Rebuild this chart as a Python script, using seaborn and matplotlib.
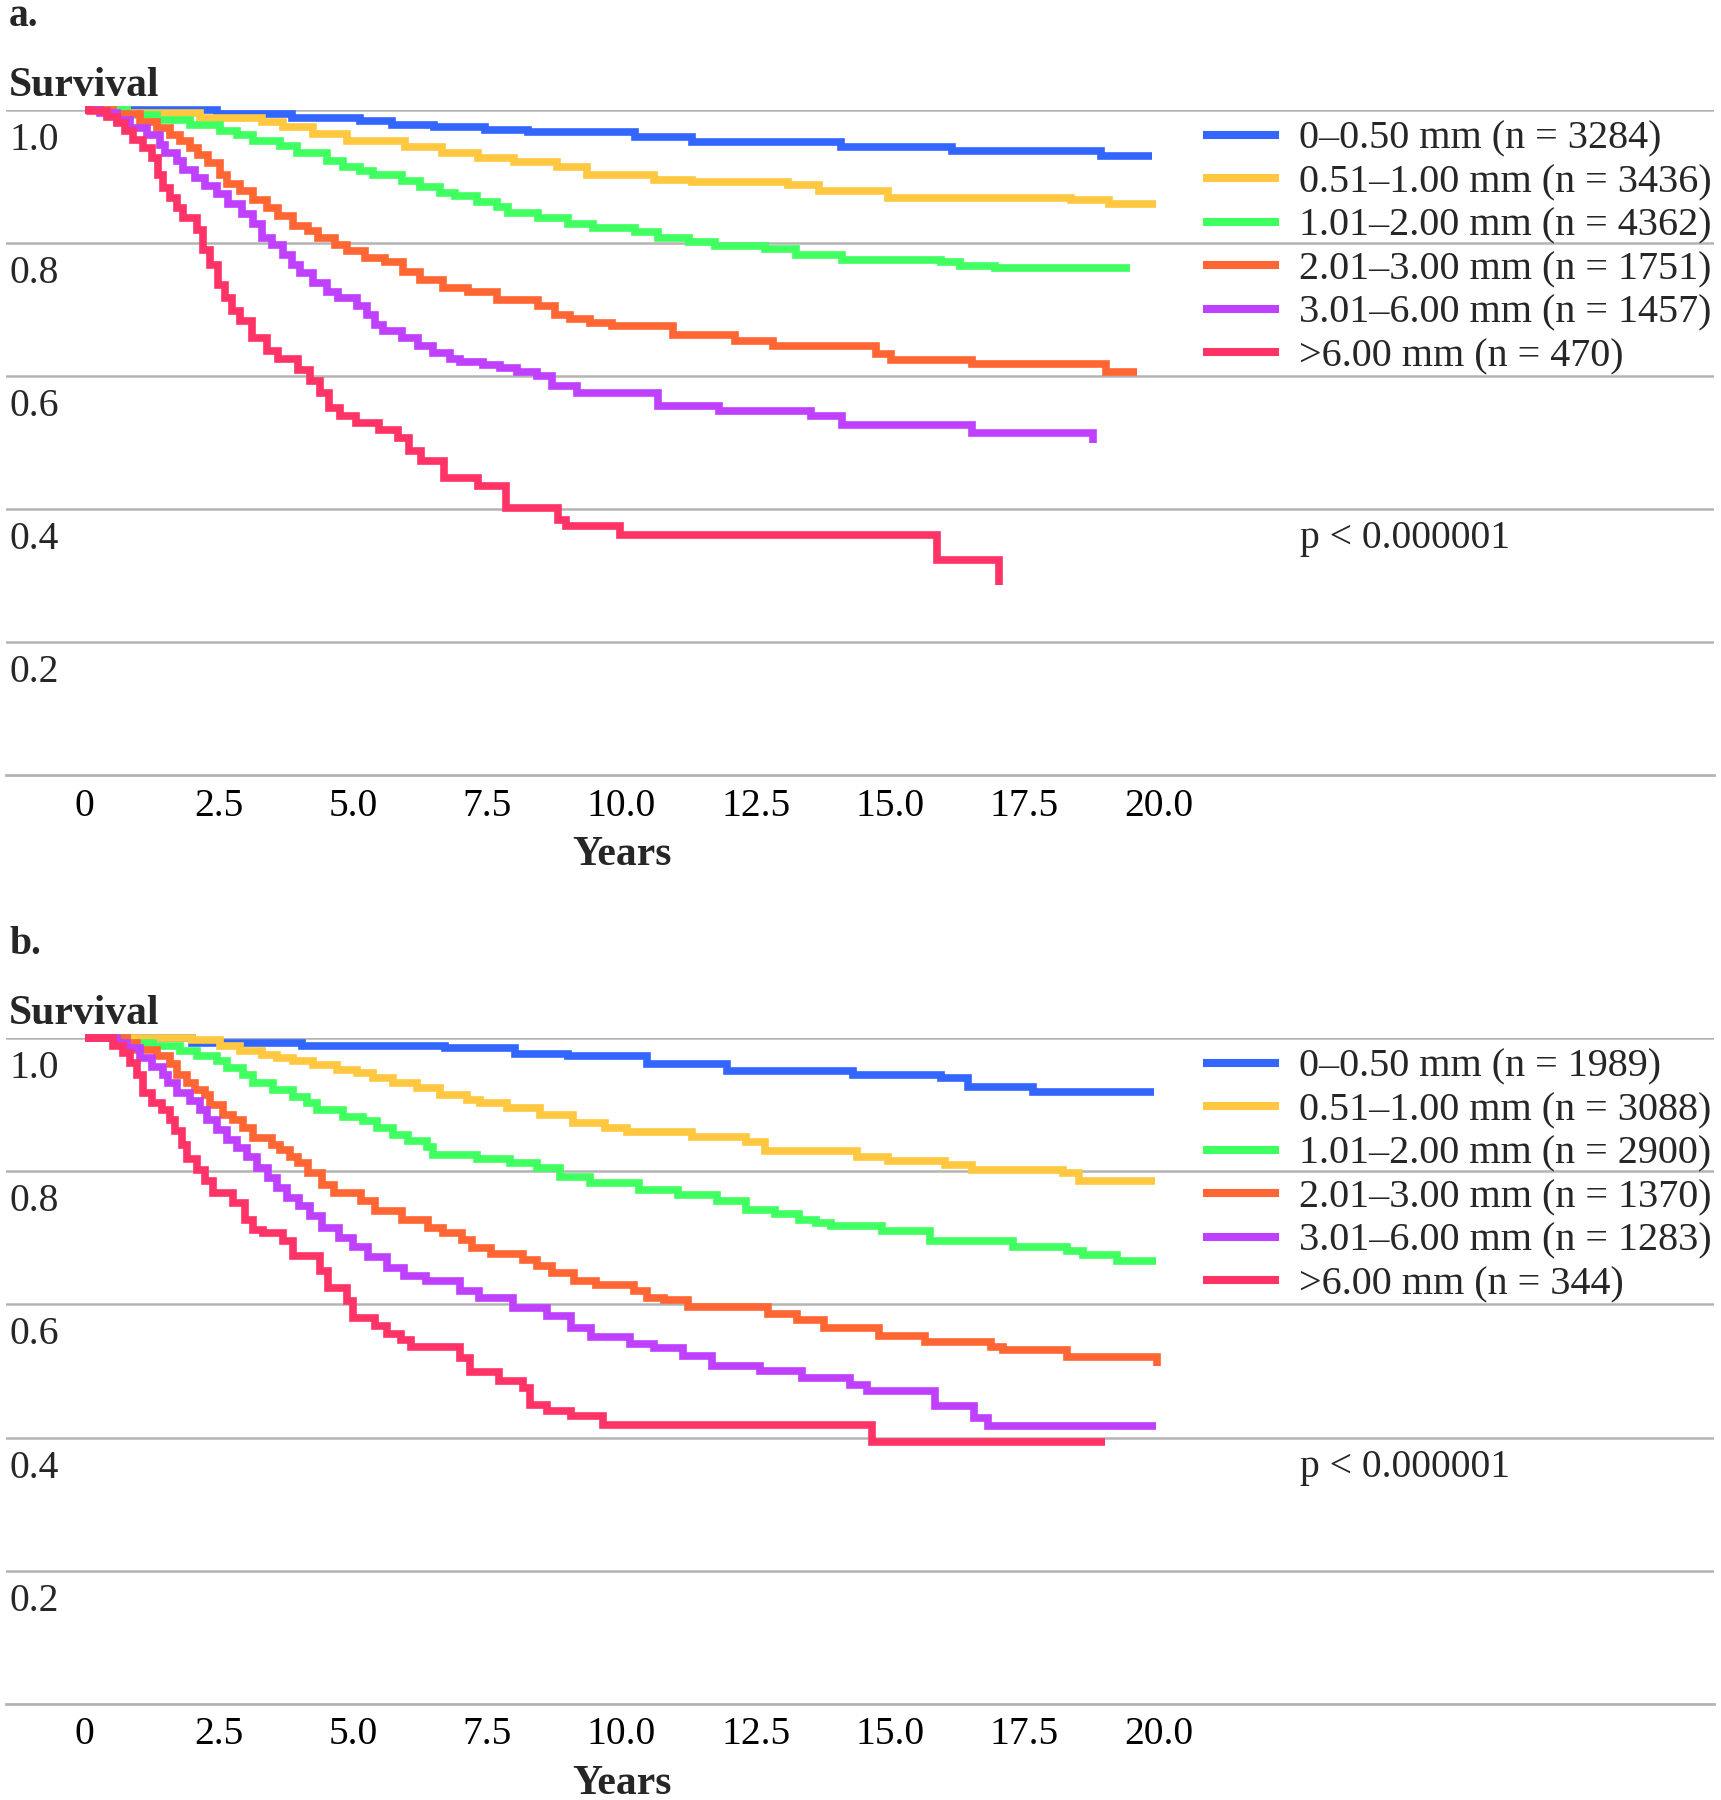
import numpy as np
import pandas as pd
import matplotlib
matplotlib.use("Agg")
import matplotlib.pyplot as plt
import matplotlib.transforms as mtransforms
from matplotlib.lines import Line2D
import seaborn as sns

# ---------------- data ----------------
GROUPS = ["0-0.50", "0.51-1.00", "1.01-2.00", "2.01-3.00", "3.01-6.00", ">6.00"]
COLORS = ["#3366FF", "#FFC840", "#40FF60", "#FF6633", "#BF40FF", "#FF3366"]

A_LABELS = ["0\u20130.50 mm (n = 3284)", "0.51\u20131.00 mm (n = 3436)", "1.01\u20132.00 mm (n = 4362)",
            "2.01\u20133.00 mm (n = 1751)", "3.01\u20136.00 mm (n = 1457)", ">6.00 mm (n = 470)"]
B_LABELS = ["0\u20130.50 mm (n = 1989)", "0.51\u20131.00 mm (n = 3088)", "1.01\u20132.00 mm (n = 2900)",
            "2.01\u20133.00 mm (n = 1370)", "3.01\u20136.00 mm (n = 1283)", ">6.00 mm (n = 344)"]

X_TICKS = [0, 2.5, 5.0, 7.5, 10.0, 12.5, 15.0, 17.5, 20.0]
X_TICK_LABELS = ["0", "2.5", "5.0", "7.5", "10.0", "12.5", "15.0", "17.5", "20.0"]
Y_GRID = [0.2, 0.4, 0.6, 0.8, 1.0]
Y_TICK_LABELS = ["0.2", "0.4", "0.6", "0.8", "1.0"]
P_TEXT = "p < 0.000001"

# panel a
a_blue_t = [0, 2.46, 3.86, 5.13, 5.72, 6.5, 7.46, 8.26, 10.25, 11.32, 14.09, 16.16, 18.93, 19.88]
a_blue_s = [1.0, 0.994, 0.988, 0.983, 0.978, 0.975, 0.970, 0.967, 0.959, 0.952, 0.945, 0.938, 0.931, 0.931]
a_yel_t = [0, 0.8, 2.15, 3.3, 3.7, 4.26, 4.88, 5.97, 6.65, 7.33, 7.99, 8.79, 9.35, 10.6, 11.31, 13.1, 13.68,
           14.96, 18.37, 19.08, 19.95]
a_yel_s = [1.0, 0.996, 0.988, 0.982, 0.974, 0.964, 0.954, 0.945, 0.935, 0.928, 0.922, 0.914, 0.903, 0.895,
           0.892, 0.887, 0.878, 0.868, 0.865, 0.859, 0.859]
a_grn_t = [0, 0.79, 1.35, 1.96, 2.52, 2.84, 3.14, 3.64, 3.96, 4.52, 4.81, 5.13, 5.37, 5.91, 6.25, 6.62, 6.9,
           7.31, 7.68, 7.89, 8.44, 9.0, 9.47, 10.25, 10.68, 11.26, 11.74, 12.67, 13.25, 14.11, 15.95, 16.3,
           16.96, 19.47]
a_grn_s = [1.0, 0.993, 0.985, 0.977, 0.969, 0.962, 0.953, 0.946, 0.935, 0.923, 0.915, 0.908, 0.902, 0.893,
           0.884, 0.875, 0.870, 0.862, 0.854, 0.845, 0.838, 0.829, 0.822, 0.816, 0.808, 0.802, 0.795, 0.791,
           0.782, 0.775, 0.771, 0.766, 0.762, 0.762]
a_org_t = [0, 0.53, 1.03, 1.35, 1.59, 1.78, 1.96, 2.11, 2.3, 2.52, 2.65, 2.9, 3.14, 3.4, 3.6, 3.88, 4.16,
           4.35, 4.66, 4.89, 5.22, 5.6, 5.93, 6.25, 6.68, 7.14, 7.68, 8.44, 8.76, 9.04, 9.41, 9.82, 10.96,
           12.11, 12.82, 14.74, 15.02, 16.53, 19.02, 19.6]
a_org_s = [1.0, 0.994, 0.982, 0.973, 0.963, 0.954, 0.943, 0.932, 0.920, 0.903, 0.889, 0.878, 0.865, 0.853,
           0.840, 0.825, 0.818, 0.808, 0.797, 0.788, 0.778, 0.772, 0.757, 0.745, 0.732, 0.726, 0.715, 0.705,
           0.692, 0.685, 0.680, 0.675, 0.662, 0.653, 0.645, 0.633, 0.624, 0.618, 0.606, 0.606]
a_pur_t = [0, 0.29, 0.61, 0.85, 1.16, 1.41, 1.5, 1.72, 1.83, 2.06, 2.24, 2.47, 2.67, 2.93, 3.14, 3.3, 3.49,
           3.7, 3.86, 4.01, 4.26, 4.52, 4.72, 5.07, 5.26, 5.41, 5.56, 5.91, 6.21, 6.49, 6.8, 6.99, 7.42, 7.74,
           8.05, 8.43, 8.71, 9.17, 10.68, 11.81, 13.53, 14.11, 16.53, 18.78, 18.78]
a_pur_s = [1.0, 0.995, 0.985, 0.973, 0.963, 0.948, 0.935, 0.923, 0.910, 0.898, 0.885, 0.873, 0.858, 0.843,
           0.828, 0.808, 0.797, 0.782, 0.767, 0.755, 0.740, 0.727, 0.717, 0.705, 0.692, 0.677, 0.667, 0.657,
           0.645, 0.635, 0.625, 0.621, 0.617, 0.612, 0.606, 0.600, 0.585, 0.574, 0.555, 0.547, 0.540, 0.527,
           0.515, 0.515, 0.500]
a_red_t = [0, 0.1, 0.42, 0.61, 0.75, 0.9, 1.09, 1.26, 1.37, 1.46, 1.59, 1.72, 1.83, 2.1, 2.21, 2.34, 2.49,
           2.62, 2.75, 2.9, 3.12, 3.4, 3.6, 3.98, 4.2, 4.39, 4.55, 4.76, 5.06, 5.48, 5.84, 6.04, 6.27, 6.69,
           7.33, 7.85, 8.82, 8.97, 9.97, 15.87, 17.03, 17.03]
a_red_s = [1.0, 0.998, 0.990, 0.980, 0.968, 0.955, 0.943, 0.928, 0.903, 0.883, 0.868, 0.853, 0.838, 0.820,
           0.790, 0.767, 0.737, 0.717, 0.697, 0.682, 0.657, 0.637, 0.625, 0.609, 0.592, 0.574, 0.552, 0.540,
           0.529, 0.519, 0.507, 0.487, 0.472, 0.447, 0.435, 0.401, 0.384, 0.374, 0.361, 0.323, 0.323, 0.286]

# panel b
b_blue_t = [0, 2.0, 4.05, 6.71, 8.02, 9.0, 10.47, 11.97, 14.32, 15.95, 16.45, 17.66, 19.92]
b_blue_s = [1.0, 0.9925, 0.988, 0.985, 0.976, 0.9725, 0.961, 0.951, 0.944, 0.940, 0.927, 0.919, 0.919]
b_yel_t = [0, 2.0, 2.52, 2.9, 3.3, 3.58, 3.88, 4.26, 4.7, 5.07, 5.37, 5.74, 6.19, 6.62, 7.12, 7.36, 7.87,
           8.48, 9.1, 9.69, 10.11, 11.32, 12.32, 12.68, 14.39, 14.96, 16.03, 16.52, 18.23, 18.52, 19.94]
b_yel_s = [1.0, 0.997, 0.988, 0.980, 0.975, 0.970, 0.965, 0.960, 0.952, 0.947, 0.940, 0.932, 0.925, 0.915,
           0.907, 0.902, 0.895, 0.884, 0.872, 0.865, 0.859, 0.852, 0.844, 0.830, 0.821, 0.816, 0.810, 0.802,
           0.797, 0.786, 0.786]
b_grn_t = [0, 0.79, 1.28, 1.78, 2.09, 2.47, 2.65, 2.95, 3.14, 3.51, 3.88, 4.14, 4.33, 4.81, 5.19, 5.45, 5.74,
           6.02, 6.38, 6.49, 7.31, 7.92, 8.43, 8.85, 9.41, 10.32, 11.05, 11.78, 12.32, 12.86, 13.3, 13.62,
           13.9, 14.85, 15.75, 17.29, 18.3, 18.59, 19.23, 19.96]
b_grn_s = [1.0, 0.9925, 0.9875, 0.980, 0.9725, 0.965, 0.955, 0.945, 0.932, 0.922, 0.912, 0.902, 0.892,
           0.882, 0.875, 0.865, 0.855, 0.845, 0.837, 0.825, 0.818, 0.812, 0.805, 0.792, 0.782, 0.772, 0.765,
           0.755, 0.742, 0.736, 0.727, 0.722, 0.717, 0.710, 0.695, 0.686, 0.680, 0.674, 0.665, 0.665]
b_org_t = [0, 0.79, 0.98, 1.35, 1.59, 1.72, 1.91, 2.06, 2.24, 2.34, 2.58, 2.77, 2.95, 3.14, 3.49, 3.64, 3.83,
           3.98, 4.16, 4.42, 4.65, 5.15, 5.41, 5.91, 6.4, 6.67, 7.03, 7.22, 7.57, 8.17, 8.43, 8.71, 9.12, 9.52,
           10.23, 10.48, 10.79, 11.24, 12.73, 13.27, 13.77, 14.8, 15.65, 16.88, 17.1, 18.3, 19.98, 19.98]
b_org_s = [1.0, 0.9925, 0.982, 0.9725, 0.961, 0.945, 0.932, 0.922, 0.915, 0.900, 0.885, 0.877, 0.865, 0.850,
           0.840, 0.832, 0.822, 0.812, 0.797, 0.780, 0.767, 0.755, 0.740, 0.727, 0.715, 0.707, 0.697, 0.685,
           0.675, 0.667, 0.657, 0.647, 0.635, 0.629, 0.620, 0.610, 0.606, 0.596, 0.585, 0.577, 0.565, 0.553,
           0.543, 0.536, 0.532, 0.521, 0.521, 0.507]
b_pur_t = [0, 0.61, 0.79, 1.03, 1.26, 1.46, 1.56, 1.72, 1.96, 2.15, 2.28, 2.47, 2.65, 2.84, 3.03, 3.21, 3.42,
           3.58, 3.77, 4.0, 4.2, 4.42, 4.74, 5.0, 5.28, 5.64, 5.95, 6.36, 6.99, 7.35, 7.98, 8.61, 9.06, 9.43,
           10.16, 10.6, 11.14, 11.69, 12.58, 13.36, 14.26, 14.57, 15.84, 16.56, 16.83, 19.96]
b_pur_s = [1.0, 0.9925, 0.985, 0.970, 0.957, 0.945, 0.932, 0.917, 0.905, 0.892, 0.877, 0.862, 0.847, 0.835,
           0.822, 0.805, 0.790, 0.775, 0.760, 0.748, 0.733, 0.715, 0.700, 0.686, 0.671, 0.655, 0.642, 0.635,
           0.620, 0.610, 0.595, 0.583, 0.564, 0.551, 0.541, 0.535, 0.522, 0.507, 0.500, 0.489, 0.479, 0.470,
           0.448, 0.429, 0.418, 0.418]
b_red_t = [0, 0.53, 0.72, 0.85, 0.98, 1.09, 1.26, 1.44, 1.59, 1.69, 1.82, 1.91, 2.1, 2.24, 2.39, 2.77, 2.99,
           3.14, 3.32, 3.7, 3.88, 4.38, 4.53, 4.89, 5.0, 5.41, 5.64, 5.9, 6.08, 6.99, 7.18, 7.72, 8.17, 8.3,
           8.61, 9.06, 9.66, 14.66, 19.0]
b_red_s = [1.0, 0.988, 0.977, 0.962, 0.944, 0.917, 0.902, 0.892, 0.877, 0.860, 0.839, 0.818, 0.802, 0.785,
           0.767, 0.752, 0.727, 0.712, 0.707, 0.695, 0.673, 0.650, 0.625, 0.605, 0.579, 0.567, 0.556, 0.547,
           0.536, 0.520, 0.498, 0.485, 0.475, 0.449, 0.440, 0.432, 0.419, 0.393, 0.393]

A_CURVES = [(a_blue_t, a_blue_s), (a_yel_t, a_yel_s), (a_grn_t, a_grn_s),
            (a_org_t, a_org_s), (a_pur_t, a_pur_s), (a_red_t, a_red_s)]
B_CURVES = [(b_blue_t, b_blue_s), (b_yel_t, b_yel_s), (b_grn_t, b_grn_s),
            (b_org_t, b_org_s), (b_pur_t, b_pur_s), (b_red_t, b_red_s)]


def make_frame(curves):
    parts = []
    for g, (t, s) in zip(GROUPS, curves):
        parts.append(pd.DataFrame({"time": t, "survival": s, "group": g}))
    return pd.concat(parts, ignore_index=True)


# ---------------- style ----------------
sns.set_theme(style="white")
plt.rcParams["font.family"] = ["Liberation Serif", "DejaVu Serif"]

FS = 28.5
LEG_FS = 28.9
GRID_C = "#b4b4b4"
W_PX, H_PX = 1721, 1800
fig = plt.figure(figsize=(W_PX / 100, H_PX / 100), dpi=100)

left = 6 / W_PX
width = (1714 - 6) / W_PX
x0_px, per_year = 84.5, 53.7
xlim = ((6 - x0_px) / per_year, (1714 - x0_px) / per_year)

panels = [
    ("a.", A_CURVES, A_LABELS, 775, 110),
    ("b.", B_CURVES, B_LABELS, 1704, 1038),
]

palette = dict(zip(GROUPS, COLORS))

for tag, curves, labels, y0px, y1px in panels:
    ax = fig.add_axes([left, 1 - y0px / H_PX, width, (y0px - y1px) / H_PX])
    ppu = (y0px - y1px)  # pixels per 1.0 survival
    df = make_frame(curves)
    sns.lineplot(data=df, x="time", y="survival", hue="group", palette=palette,
                 hue_order=GROUPS, estimator=None, sort=False, drawstyle="steps-post",
                 linewidth=5.5, legend=False, ax=ax, clip_on=False,
                 solid_capstyle="butt", solid_joinstyle="miter", zorder=3)
    ax.set_xlim(*xlim)
    ax.set_ylim(0, 1.0)
    for sp in ["top", "left", "right"]:
        ax.spines[sp].set_visible(False)
    ax.spines["bottom"].set_color(GRID_C)
    ax.spines["bottom"].set_linewidth(2.0)
    ax.set_yticks(Y_GRID)
    ax.tick_params(axis="y", length=0, labelleft=False)
    ax.yaxis.grid(True, color=GRID_C, linewidth=1.8)
    ax.xaxis.grid(False)
    ax.set_xticks(X_TICKS)
    ax.set_xticklabels(X_TICK_LABELS)
    ax.tick_params(axis="x", direction="in", length=16.5, width=1.1, color=GRID_C,
                   pad=9, labelsize=FS, labelcolor="black")
    ax.set_xlabel("")
    ax.set_ylabel("")

    trans = mtransforms.blended_transform_factory(ax.transAxes, ax.transData)
    for v, lab in zip(Y_GRID, Y_TICK_LABELS):
        ax.text(0.0018, v - 40 / ppu, lab, transform=trans, fontsize=FS, va="baseline", ha="left")
    ax.text(0.0018, 1 + 14 / ppu, "Survival", transform=trans, fontsize=30, fontweight="bold",
            va="baseline", ha="left")
    ax.text(0.0018, 1 + 84 / ppu, tag, transform=trans, fontsize=28.5, fontweight="bold",
            va="baseline", ha="left")
    transx = mtransforms.blended_transform_factory(ax.transData, ax.transAxes)
    ax.text(10.0, -90 / ppu, "Years", transform=transx, fontsize=30, fontweight="bold",
            va="baseline", ha="center")
    ax.text((1300 - 6) / 1708, 1 - (548 - 110) / 665, P_TEXT, transform=trans, fontsize=FS,
            va="baseline", ha="left")

    handles = [Line2D([], [], color=c, linewidth=5.8, solid_capstyle="butt") for c in COLORS]
    ax.legend(handles, labels, loc="upper left", bbox_to_anchor=((1203 - 6) / 1708, 0.984),
              frameon=False, fontsize=LEG_FS, handlelength=1.9, handletextpad=0.5,
              labelspacing=0.16, borderpad=0, borderaxespad=0)

fig.savefig("out.png", dpi=100)
